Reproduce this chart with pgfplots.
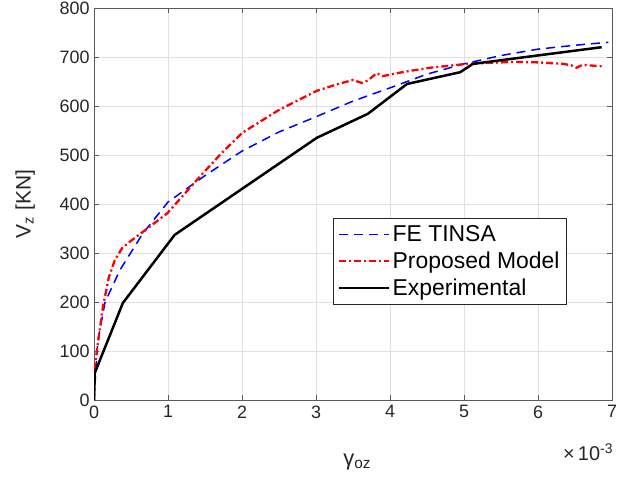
\documentclass[border=0pt]{standalone}
\usepackage{fontspec}
\setmainfont{Liberation Sans}
\usepackage{pgfplots}
\pgfplotsset{compat=1.18}
\definecolor{axgray}{RGB}{38,38,38}
\definecolor{axline}{RGB}{90,90,90}
\begin{document}
\begin{tikzpicture}
\begin{axis}[
  scale only axis, width=518bp, height=392bp,
  xmin=0, xmax=7, ymin=0, ymax=800,
  xtick={0,1,...,7}, ytick={0,100,...,800},
  tick align=inside, major tick length=5bp,
  tick style={color=axline, line width=0.6pt},
  grid=major, grid style={color=black!12, line width=0.5pt},
  axis line style={color=axline, line width=0.7pt},
  /pgf/number format/assume math mode=true,
  ticklabel style={font=\fontsize{18}{20}\selectfont, text=axgray},
  xticklabel style={yshift=-2bp},
  yticklabel style={xshift=-1bp},
  xlabel={γ\textsubscript{oz}},
  ylabel={V\textsubscript{z} [KN]},
  every axis x label/.style={at={(axis description cs:0.508,-0.158)}, anchor=center, font=\fontsize{22}{24}\selectfont, text=axgray},
  every axis y label/.style={at={(axis description cs:-0.133,0.5)}, rotate=90, anchor=center, font=\fontsize{21}{24}\selectfont, text=axgray},
  legend style={at={(axis description cs:0.461,0.464)}, anchor=north west,
    font=\fontsize{23}{27}\selectfont, draw=axgray, line width=0.8pt,
    inner xsep=5bp, inner ysep=5bp, row sep=5bp,
    cells={anchor=west}},
  legend image code/.code={\draw[#1] (0bp,0bp) -- (50bp,0bp);},
]
\addplot[blue, line width=1.5bp, dash pattern=on 9bp off 6bp] coordinates {
(0,0) (0.05,120) (0.15,200) (0.35,265) (0.66,340) (1.0,404) (1.5,458) (2.0,508)
(2.5,547) (3.0,578) (3.5,610) (4.0,637) (4.5,665) (5.0,686) (5.5,703) (6.0,716)
(6.5,724) (6.95,730)};
\addlegendentry{FE TINSA}
\addplot[red, line width=2.3bp, dash pattern=on 7bp off 3bp on 2bp off 3bp] coordinates {
(0,0) (0.01,67) (0.04,102) (0.12,190) (0.2,250) (0.28,285) (0.38,310) (0.5,325)
(0.66,343) (0.99,381) (1.39,449) (1.7,500) (2.0,545) (2.5,592) (3.01,631)
(3.3,645) (3.5,653) (3.62,647) (3.7,652) (3.82,667) (3.9,661) (4.2,670)
(4.54,678) (5.04,686) (5.66,690) (6.0,689) (6.34,686) (6.45,683) (6.52,678)
(6.6,684) (6.86,681)};
\addlegendentry{Proposed Model}
\addplot[black, line width=2.5bp] coordinates {
(0,0) (0.01,55) (0.39,198) (1.09,337) (3.01,535) (3.70,584) (4.23,645)
(4.95,669) (5.12,686) (6.86,720)};
\addlegendentry{Experimental}
\end{axis}
\node[text=axgray, font=\fontsize{20}{22}\selectfont, inner sep=0pt] at ([shift={(-24bp,-52bp)}]current axis.south east) {×\,10\textsuperscript{-3}};
\pgfresetboundingbox
\path ([shift={(-94bp,-79bp)}]current axis.south west) rectangle ([shift={(6bp,8bp)}]current axis.north east);
\end{tikzpicture}
\end{document}
